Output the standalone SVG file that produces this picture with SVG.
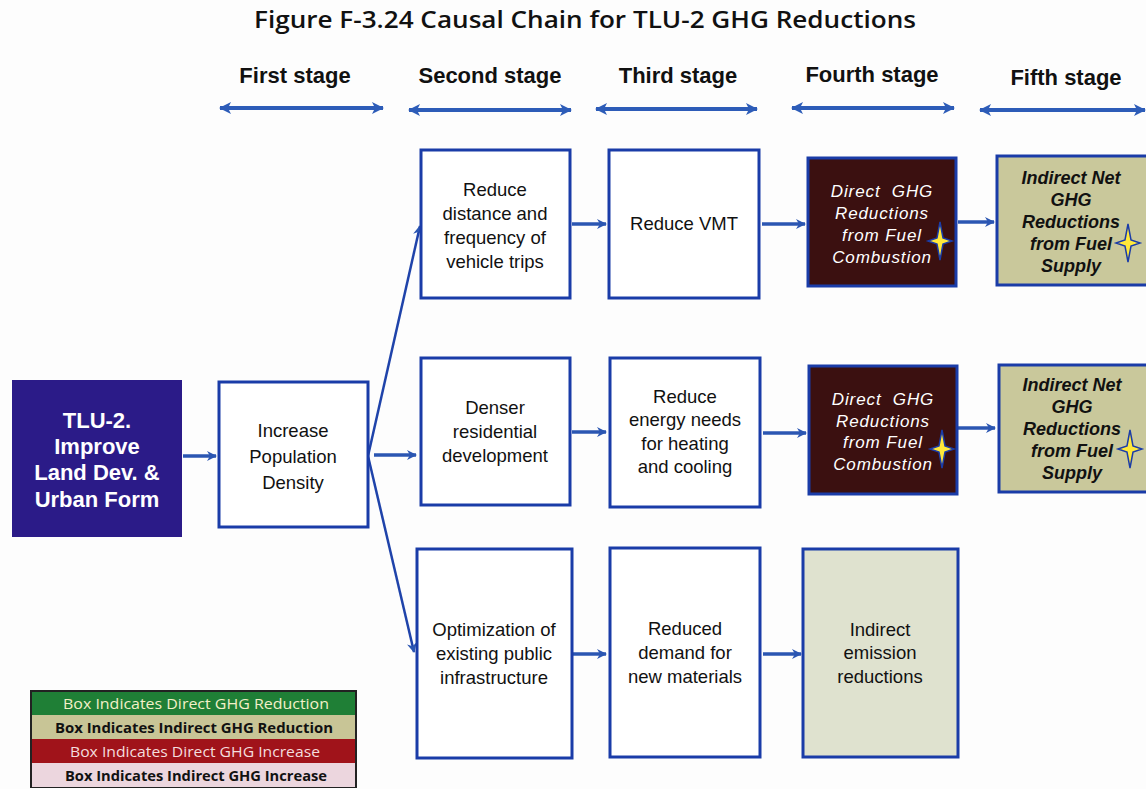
<svg xmlns="http://www.w3.org/2000/svg" width="1146" height="789" viewBox="0 0 1146 789">
  <style>
    .title { font-family: "Open Sans", "Liberation Sans", sans-serif; font-weight: 600; font-size: 24px; fill: #111; }
    .stage { font-family: "Liberation Sans", Arial, sans-serif; font-weight: bold; font-size: 22px; fill: #111; }
    .box { fill: #fff; stroke: #1a3ca8; stroke-width: 3; }
    .lbl { font-family: "Liberation Sans", Arial, sans-serif; font-size: 18.5px; fill: #111; text-anchor: middle; }
    .lead { font-family: "Liberation Sans", Arial, sans-serif; font-weight: bold; font-size: 22px; fill: #fff; text-anchor: middle; }
    .direct { fill: #3b1010; stroke: #1a3ca8; stroke-width: 3; }
    .dtxt { font-family: "Liberation Sans", Arial, sans-serif; font-style: italic; font-size: 17px; fill: #fff; text-anchor: middle; letter-spacing: 0.9px; white-space: pre; }
    .indirect { fill: #c9c89b; stroke: #1a3ca8; stroke-width: 3; }
    .itxt { font-family: "Liberation Sans", Arial, sans-serif; font-style: italic; font-weight: bold; font-size: 18px; fill: #111; text-anchor: middle; }
    .conn { stroke: #2b56b2; stroke-width: 3.5; fill: none; }
    .fan { stroke: #1f43aa; stroke-width: 2.5; fill: none; }
    .span { stroke: #2d5cb8; stroke-width: 4; fill: none; }
    .leg { font-family: "Open Sans", "Liberation Sans", sans-serif; font-size: 14px; text-anchor: middle; }
    .star { fill: #ffe83a; stroke: #1a3ca8; stroke-width: 1.5; }
  </style>
  <defs>
    <marker id="ah" viewBox="0 0 12 12" refX="10" refY="6" markerWidth="12" markerHeight="12" markerUnits="userSpaceOnUse" orient="auto-start-reverse">
      <path d="M1,1 L11,6 L1,11 L4,6 z" fill="#2b56b2"/>
    </marker>
    <marker id="ahs" viewBox="0 0 14 14" refX="12" refY="7" markerWidth="14" markerHeight="14" markerUnits="userSpaceOnUse" orient="auto-start-reverse">
      <path d="M1,1 L13,7 L1,13 L4,7 z" fill="#2d5cb8"/>
    </marker>
    <path id="spark" d="M0,-19 L3,-3 L12,0 L3,3 L0,19 L-3,3 L-12,0 L-3,-3 z"/>
  </defs>

  <rect width="1146" height="789" fill="#fdfdfd"/>

  <text class="title" x="585" y="28" text-anchor="middle" textLength="662" lengthAdjust="spacingAndGlyphs">Figure F-3.24 Causal Chain for TLU-2 GHG Reductions</text>

  <!-- stage headers -->
  <g id="stages">
    <text class="stage" x="295" y="83" text-anchor="middle">First stage</text>
    <text class="stage" x="490" y="83" text-anchor="middle">Second stage</text>
    <text class="stage" x="678" y="83" text-anchor="middle">Third stage</text>
    <text class="stage" x="872" y="82" text-anchor="middle">Fourth stage</text>
    <text class="stage" x="1066" y="85" text-anchor="middle">Fifth stage</text>
    <line class="span" x1="220" y1="108" x2="383" y2="108" marker-start="url(#ahs)" marker-end="url(#ahs)"/>
    <line class="span" x1="409" y1="110" x2="571" y2="110" marker-start="url(#ahs)" marker-end="url(#ahs)"/>
    <line class="span" x1="596" y1="109" x2="757" y2="109" marker-start="url(#ahs)" marker-end="url(#ahs)"/>
    <line class="span" x1="792" y1="108" x2="954" y2="108" marker-start="url(#ahs)" marker-end="url(#ahs)"/>
    <line class="span" x1="980" y1="110" x2="1145" y2="110" marker-start="url(#ahs)" marker-end="url(#ahs)"/>
  </g>

  <!-- connectors -->
  <g id="connectors">
    <line class="conn" x1="183" y1="456" x2="216" y2="456" marker-end="url(#ah)"/>
    <line class="fan" x1="368" y1="456" x2="420" y2="226" marker-end="url(#ah)"/>
    <line class="conn" x1="374" y1="455" x2="416" y2="455" marker-end="url(#ah)"/>
    <line class="fan" x1="368" y1="456" x2="414" y2="652" marker-end="url(#ah)"/>
    <line class="conn" x1="572" y1="224" x2="606" y2="224" marker-end="url(#ah)"/>
    <line class="conn" x1="572" y1="432" x2="606" y2="432" marker-end="url(#ah)"/>
    <line class="conn" x1="572" y1="654" x2="606" y2="654" marker-end="url(#ah)"/>
    <line class="conn" x1="762" y1="224" x2="805" y2="224" marker-end="url(#ah)"/>
    <line class="conn" x1="763" y1="433" x2="806" y2="433" marker-end="url(#ah)"/>
    <line class="conn" x1="763" y1="654" x2="801" y2="654" marker-end="url(#ah)"/>
    <line class="conn" x1="958" y1="222" x2="994" y2="222" marker-end="url(#ah)"/>
    <line class="conn" x1="958" y1="428" x2="995" y2="428" marker-end="url(#ah)"/>
  </g>

  <!-- first stage -->
  <g id="tlu2">
    <rect x="12" y="380" width="170" height="157" fill="#2b1b88"/>
    <text class="lead" x="97" y="428">TLU-2.</text>
    <text class="lead" x="97" y="454">Improve</text>
    <text class="lead" x="97" y="480">Land Dev. &amp;</text>
    <text class="lead" x="97" y="507">Urban Form</text>
  </g>
  <g id="density">
    <rect class="box" x="219" y="382" width="149" height="145"/>
    <text class="lbl" x="293" y="437" font-size="21">Increase</text>
    <text class="lbl" x="293" y="463" font-size="21">Population</text>
    <text class="lbl" x="293" y="489" font-size="21">Density</text>
  </g>

  <!-- second stage -->
  <g id="trips">
    <rect class="box" x="421" y="150" width="149" height="148"/>
    <text class="lbl" x="495" y="196">Reduce</text>
    <text class="lbl" x="495" y="220">distance and</text>
    <text class="lbl" x="495" y="244">frequency of</text>
    <text class="lbl" x="495" y="268">vehicle trips</text>
  </g>
  <g id="denser">
    <rect class="box" x="421" y="358" width="149" height="147"/>
    <text class="lbl" x="495" y="414">Denser</text>
    <text class="lbl" x="495" y="438">residential</text>
    <text class="lbl" x="495" y="462">development</text>
  </g>
  <g id="infra">
    <rect class="box" x="417" y="549" width="155" height="209"/>
    <text class="lbl" x="494" y="636">Optimization of</text>
    <text class="lbl" x="494" y="660">existing public</text>
    <text class="lbl" x="494" y="684">infrastructure</text>
  </g>

  <!-- third stage -->
  <g id="vmt">
    <rect class="box" x="609" y="150" width="150" height="148"/>
    <text class="lbl" x="684" y="230">Reduce VMT</text>
  </g>
  <g id="energy">
    <rect class="box" x="610" y="358" width="150" height="149"/>
    <text class="lbl" x="685" y="403">Reduce</text>
    <text class="lbl" x="685" y="426">energy needs</text>
    <text class="lbl" x="685" y="450">for heating</text>
    <text class="lbl" x="685" y="473">and cooling</text>
  </g>
  <g id="materials">
    <rect class="box" x="610" y="548" width="150" height="209"/>
    <text class="lbl" x="685" y="635">Reduced</text>
    <text class="lbl" x="685" y="659">demand for</text>
    <text class="lbl" x="685" y="683">new materials</text>
  </g>

  <!-- fourth stage -->
  <g id="combustion1">
    <rect class="direct" x="808" y="158" width="148" height="128"/>
    <text class="dtxt" x="882" y="197">Direct  GHG</text>
    <text class="dtxt" x="882" y="219">Reductions</text>
    <text class="dtxt" x="882" y="241">from Fuel</text>
    <text class="dtxt" x="882" y="263">Combustion</text>
    <use href="#spark" class="star" x="940" y="241"/>
  </g>
  <g id="combustion2">
    <rect class="direct" x="809" y="366" width="148" height="128"/>
    <text class="dtxt" x="883" y="405">Direct  GHG</text>
    <text class="dtxt" x="883" y="427">Reductions</text>
    <text class="dtxt" x="883" y="448">from Fuel</text>
    <text class="dtxt" x="883" y="470">Combustion</text>
    <use href="#spark" class="star" x="942" y="449"/>
  </g>
  <g id="emission">
    <rect x="803" y="549" width="155" height="208" fill="#dfe2cf" stroke="#1a3ca8" stroke-width="3"/>
    <text class="lbl" x="880" y="636">Indirect</text>
    <text class="lbl" x="880" y="659">emission</text>
    <text class="lbl" x="880" y="683">reductions</text>
  </g>

  <!-- fifth stage -->
  <g id="supply1">
    <rect class="indirect" x="997" y="156" width="152" height="129"/>
    <text class="itxt" x="1071" y="184">Indirect Net</text>
    <text class="itxt" x="1071" y="206">GHG</text>
    <text class="itxt" x="1071" y="228">Reductions</text>
    <text class="itxt" x="1071" y="250">from Fuel</text>
    <text class="itxt" x="1071" y="272">Supply</text>
    <use href="#spark" class="star" x="1128" y="243"/>
  </g>
  <g id="supply2">
    <rect class="indirect" x="999" y="365" width="150" height="127"/>
    <text class="itxt" x="1072" y="391">Indirect Net</text>
    <text class="itxt" x="1072" y="413">GHG</text>
    <text class="itxt" x="1072" y="435">Reductions</text>
    <text class="itxt" x="1072" y="457">from Fuel</text>
    <text class="itxt" x="1072" y="479">Supply</text>
    <use href="#spark" class="star" x="1130" y="449"/>
  </g>

  <!-- legend -->
  <g id="legend">
    <rect x="30" y="690" width="327" height="98" fill="#222"/>
    <rect x="32" y="692" width="323" height="23" fill="#1f7f36"/>
    <rect x="32" y="715" width="323" height="24" fill="#c8c596"/>
    <rect x="32" y="739" width="323" height="24" fill="#a0131a"/>
    <rect x="32" y="763" width="323" height="24" fill="#ecd6de"/>
    <text class="leg" x="196" y="709" fill="#f3f0c8" textLength="266" lengthAdjust="spacingAndGlyphs">Box Indicates Direct GHG Reduction</text>
    <text class="leg" x="194" y="733" fill="#111" font-weight="bold" textLength="278" lengthAdjust="spacingAndGlyphs">Box Indicates Indirect GHG Reduction</text>
    <text class="leg" x="195" y="757" fill="#f4dede" textLength="250" lengthAdjust="spacingAndGlyphs">Box Indicates Direct GHG Increase</text>
    <text class="leg" x="196" y="781" fill="#111" font-weight="bold" textLength="262" lengthAdjust="spacingAndGlyphs">Box Indicates Indirect GHG Increase</text>
  </g>
</svg>
